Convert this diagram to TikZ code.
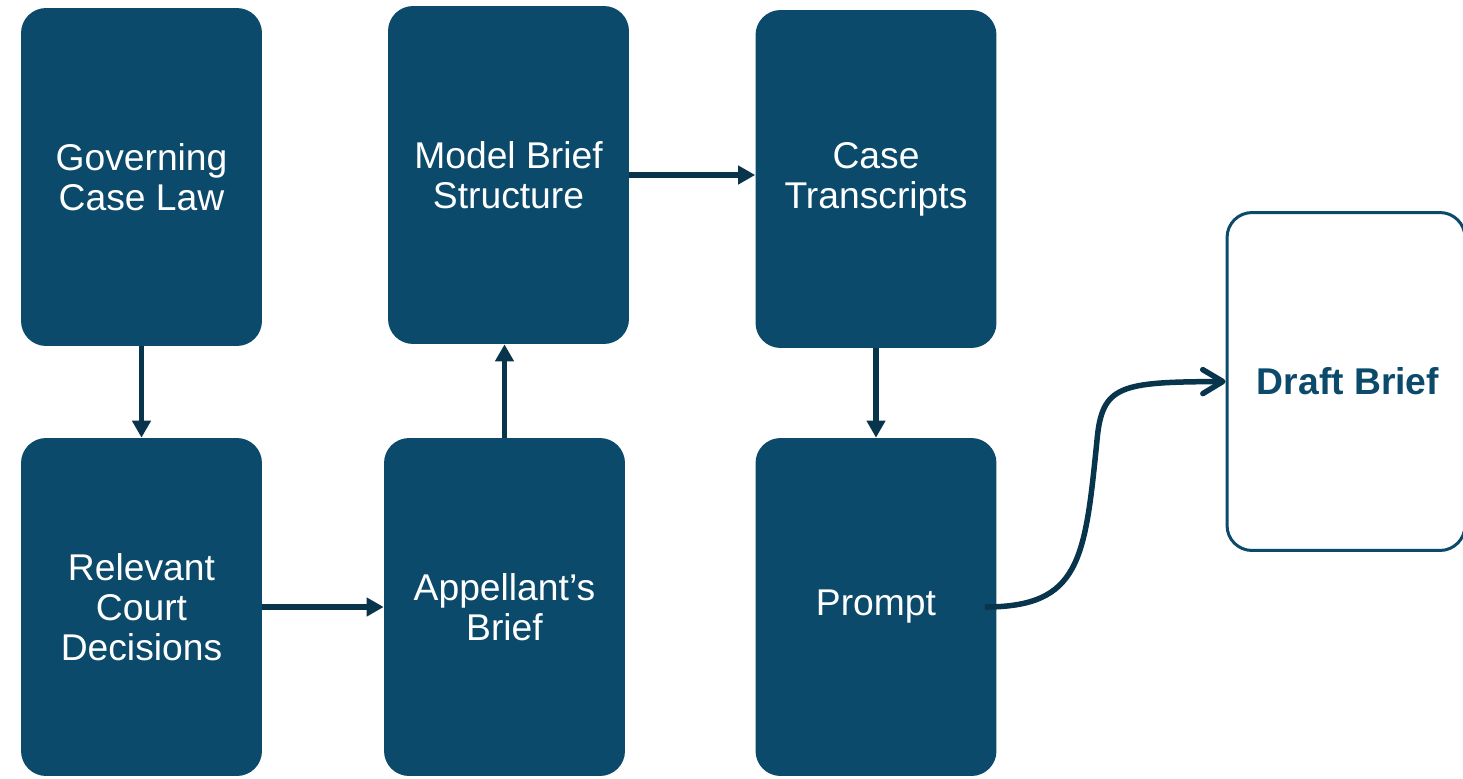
\documentclass[tikz,border=0pt]{standalone}
\usepackage{fontspec}
\setmainfont{Liberation Sans}
\usepackage{xcolor}
\usetikzlibrary{positioning,arrows.meta}

\definecolor{boxblue}{HTML}{0B4A6B}
\definecolor{arrowblue}{HTML}{08344C}

\begin{document}
\begin{tikzpicture}[x=0.02cm,y=-0.02cm,
  stage/.style={rectangle,rounded corners=0.5cm,fill=boxblue,text=white,
    minimum width=4.82cm,minimum height=6.76cm,align=center,inner sep=0pt,
    font=\fontsize{21.2}{22.8}\selectfont},
  flow/.style={arrowblue,line width=0.11cm,-{Triangle[length=0.34cm,width=0.36cm]}}]
  % pixel grid, y runs downward
  \useasboundingbox (0,0) rectangle (1463,778);

  % top row
  \node[stage] (gov)    at (141.5,177) {Governing\\Case Law};
  \node[stage] (model)  at (508.5,175) {Model Brief\\Structure};
  \node[stage] (case)   at (876,179)   {Case\\Transcripts};
  % bottom row
  \node[stage] (rel)    at (141.5,607) {Relevant\\Court\\Decisions};
  \node[stage] (app)    at (504.5,607) {Appellant’s\\Brief};
  \node[stage] (prompt) at (876,607)   {Prompt};
  % output box
  \node[rectangle,rounded corners=0.5cm,draw=boxblue,line width=0.06cm,fill=white,
    text=boxblue,minimum width=4.76cm,minimum height=6.76cm,
    font=\fontsize{21.2}{22.8}\selectfont\bfseries] (draft) at (1346,381.5) {\hspace*{0.08cm}Draft Brief};

  % straight links
  \draw[flow] (gov.south) -- (rel.north);
  \draw[flow] (rel.east) -- (app.west);
  \draw[flow] (app.north) -- (app.north |- model.south);
  \draw[flow] (model.east) -- (model.east -| case.west);
  \draw[flow] (case.south) -- (prompt.north);

  % curved link into the draft
  \draw[arrowblue,line width=0.11cm,
    -{Straight Barb[length=0.4cm,width=0.48cm,line cap=round,line join=round]}]
    ([xshift=-0.24cm]prompt.east) .. controls (1080,607) and (1085,560) .. (1097,440)
    .. controls (1102,385) and (1120,382) .. (draft.west);
\end{tikzpicture}
\end{document}
